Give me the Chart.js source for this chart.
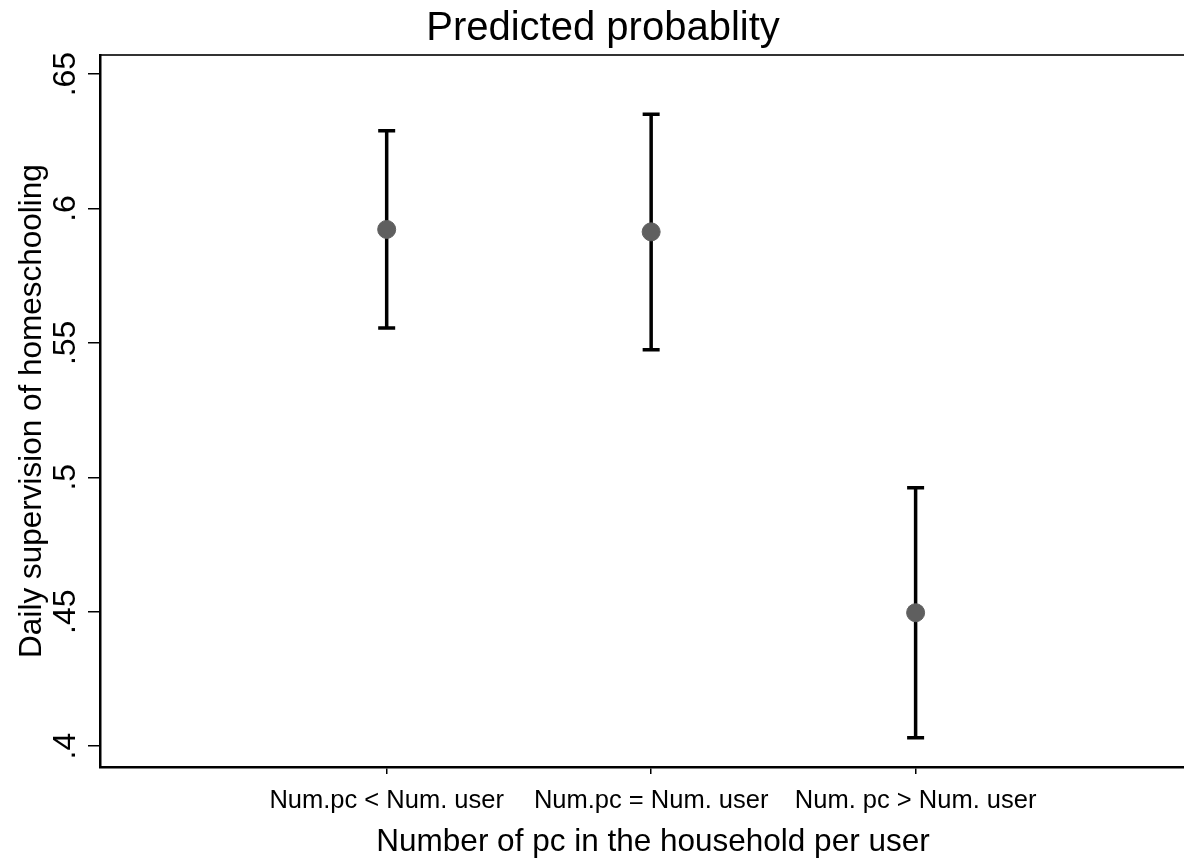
<!DOCTYPE html>
<html>
<head>
<meta charset="utf-8">
<title>Predicted probablity</title>
<script src="https://cdn.jsdelivr.net/npm/chart.js@4.4.1/dist/chart.umd.min.js"></script>
<style>
  html, body { margin: 0; padding: 0; background: #fff; overflow: hidden; }
  #chart { display: block; }
</style>
</head>
<body>
<canvas id="chart" width="1206" height="858"></canvas>
<script>
// Data
const groups = ['Num.pc < Num. user', 'Num.pc = Num. user', 'Num. pc > Num. user'];
const groupPos = [1, 2, 3];
const predicted = [0.5922, 0.5913, 0.4496];
const lowerCI = [0.5555, 0.5474, 0.4031];
const upperCI = [0.6289, 0.6351, 0.4961];
const yTicks = [0.4, 0.45, 0.5, 0.55, 0.6, 0.65];

const FONT = "'Liberation Sans', Arial, sans-serif";

// Stata style tick label: drop the leading zero
function fmtTick(v) {
    return String(+v.toFixed(2)).replace(/^0\./, '.');
}

// Error bars (capped spikes) drawn from the CI arrays through the scales
const ciBars = {
    id: 'ciBars',
    beforeDatasetsDraw(chart) {
        const { ctx, scales: { x, y } } = chart;
        ctx.save();
        ctx.strokeStyle = '#000';
        ctx.lineWidth = 3.5;
        ctx.lineCap = 'butt';
        groupPos.forEach((g, i) => {
            const px = x.getPixelForValue(g);
            const top = y.getPixelForValue(upperCI[i]);
            const bot = y.getPixelForValue(lowerCI[i]);
            ctx.beginPath();
            ctx.moveTo(px, top);
            ctx.lineTo(px, bot);
            ctx.moveTo(px - 8.5, top);
            ctx.lineTo(px + 8.5, top);
            ctx.moveTo(px - 8.5, bot);
            ctx.lineTo(px + 8.5, bot);
            ctx.stroke();
        });
        ctx.restore();
    }
};

// Vertical y tick labels (Chart.js does not rotate y ticks)
const yTickLabels = {
    id: 'yTickLabels',
    afterDraw(chart) {
        const { ctx, scales: { y } } = chart;
        ctx.save();
        ctx.fillStyle = '#000';
        ctx.font = '32px ' + FONT;
        ctx.textAlign = 'center';
        ctx.textBaseline = 'middle';
        y.ticks.forEach(t => {
            const py = y.getPixelForValue(t.value);
            ctx.save();
            ctx.translate(66, py);
            ctx.rotate(-Math.PI / 2);
            ctx.fillText(fmtTick(t.value), 0, 0);
            ctx.restore();
        });
        ctx.restore();
    }
};

// keep the plot running to the canvas edge, no label padding
function noPad(s) {
    s.paddingLeft = 0;
    s.paddingRight = 0;
    s.paddingTop = 0;
    s.paddingBottom = 0;
}

const ctx = document.getElementById('chart').getContext('2d');
new Chart(ctx, {
    type: 'scatter',
    data: {
        datasets: [{
            label: 'Predicted',
            data: groupPos.map((g, i) => ({ x: g, y: predicted[i] })),
            backgroundColor: '#5f5f5f',
            borderColor: '#5f5f5f',
            pointRadius: 9,
            pointHoverRadius: 9
        }]
    },
    options: {
        responsive: false,
        animation: false,
        layout: { padding: 0, autoPadding: false },
        plugins: {
            legend: { display: false },
            tooltip: { enabled: false },
            title: {
                display: true,
                text: 'Predicted probablity',
                color: '#000',
                font: { family: FONT, size: 40, weight: 'normal' },
                padding: { top: 5, bottom: 2 }
            }
        },
        scales: {
            x: {
                type: 'linear',
                min: -0.084,
                max: 4.098,
                afterBuildTicks: s => { s.ticks = groupPos.map(v => ({ value: v })); },
                afterFit: s => { s.height = 91; noPad(s); },
                border: { display: true, color: '#000', width: 2.5 },
                grid: { display: true, drawOnChartArea: false, drawTicks: true, tickLength: 7, color: '#000', lineWidth: 1.5 },
                ticks: {
                    color: '#000',
                    padding: 12,
                    maxRotation: 0,
                    font: { family: FONT, size: 25.5 },
                    callback: v => groups[v - 1]
                },
                title: {
                    display: true,
                    text: 'Number of pc in the household per user',
                    color: '#000',
                    font: { family: FONT, size: 31.5 },
                    padding: { top: 0, bottom: -3 }
                }
            },
            xTop: {
                type: 'linear',
                position: 'top',
                min: -0.084,
                max: 4.098,
                afterFit: s => { s.height = 0; noPad(s); },
                border: { display: true, color: '#333', width: 2 },
                grid: { display: false },
                ticks: { display: false }
            },
            y: {
                type: 'linear',
                min: 0.3922,
                max: 0.6571,
                afterBuildTicks: s => { s.ticks = yTicks.map(v => ({ value: v })); },
                afterFit: s => { s.width = 100; noPad(s); },
                border: { display: true, color: '#000', width: 2.5 },
                grid: { display: true, drawOnChartArea: false, drawTicks: true, tickLength: 12, color: '#000', lineWidth: 1.5 },
                ticks: { display: false },
                title: {
                    display: true,
                    text: 'Daily supervision of homeschooling',
                    color: '#000',
                    font: { family: FONT, size: 31.5 },
                    padding: { top: 13, bottom: 0 }
                }
            }
        }
    },
    plugins: [ciBars, yTickLabels]
});
</script>
</body>
</html>
